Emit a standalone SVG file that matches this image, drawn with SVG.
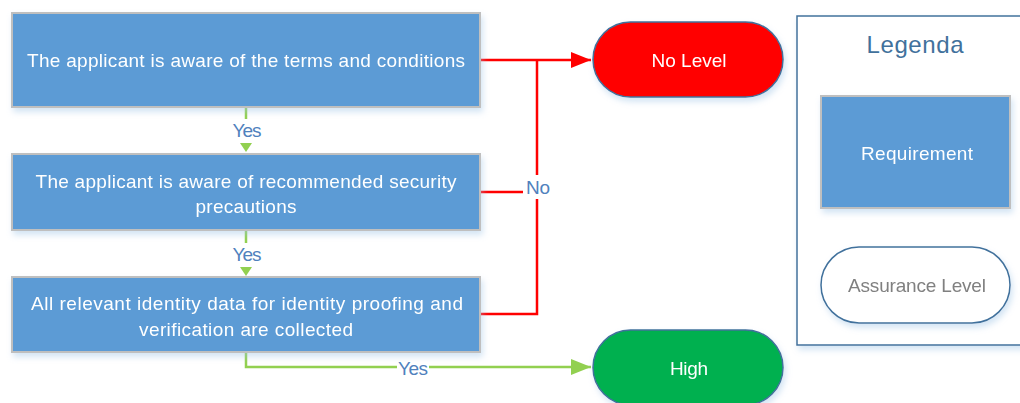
<svg xmlns="http://www.w3.org/2000/svg" width="1020" height="403" viewBox="0 0 1020 403">
  <style>
    .req { fill: #5B9BD5; stroke: #BFBFBF; stroke-width: 2; }
    .term { stroke: #41719C; stroke-width: 1.5; }
    .lbl { font-family: "Liberation Sans", Arial, sans-serif; font-size: 19px; fill: #FFFFFF; text-anchor: middle; }
    .cl { font-family: "Liberation Sans", Arial, sans-serif; font-size: 19px; fill: #4F81BD; text-anchor: middle; }
    .no { fill: none; stroke: #FF0000; stroke-width: 2.5; }
    .yes { fill: none; stroke: #92D050; stroke-width: 2.5; }
  </style>
  <defs>
    <filter id="shadow" x="-10%" y="-10%" width="120%" height="140%">
      <feGaussianBlur in="SourceAlpha" stdDeviation="3"/>
      <feOffset dx="2" dy="4" result="b"/>
      <feFlood flood-color="#9DC3E6" flood-opacity="0.45"/>
      <feComposite in2="b" operator="in"/>
      <feMerge><feMergeNode/><feMergeNode in="SourceGraphic"/></feMerge>
    </filter>
    <marker id="arrRed" markerWidth="20" markerHeight="20" refX="20" refY="10" orient="auto" markerUnits="userSpaceOnUse">
      <path d="M0,2 L20,10 L0,18 Z" fill="#FF0000"/>
    </marker>
    <marker id="arrGreen" markerWidth="20" markerHeight="20" refX="20" refY="10" orient="auto" markerUnits="userSpaceOnUse">
      <path d="M0,2 L20,10 L0,18 Z" fill="#92D050"/>
    </marker>
  </defs>

  <!-- connectors -->
  <g id="connectors">
    <path class="no" d="M480,60 H591" marker-end="url(#arrRed)"/>
    <path class="no" d="M480,192 H537"/>
    <path class="no" d="M480,314 H537 V60"/>
    <path class="yes" d="M246,107 V120"/>
    <path d="M240,143 L252,143 L246,152 Z" fill="#92D050"/>
    <path class="yes" d="M246,230 V244"/>
    <path d="M240,267 L252,267 L246,276 Z" fill="#92D050"/>
    <path class="yes" d="M246,352 V367 H591" marker-end="url(#arrGreen)"/>
    <rect x="228" y="119" width="36" height="22" fill="#FFFFFF"/>
    <text class="cl" x="247" y="137" textLength="29">Yes</text>
    <rect x="228" y="243" width="36" height="22" fill="#FFFFFF"/>
    <text class="cl" x="247" y="261" textLength="29">Yes</text>
    <rect x="397" y="357" width="32" height="22" fill="#FFFFFF"/>
    <text class="cl" x="413" y="375" textLength="30">Yes</text>
    <rect x="523" y="175" width="28" height="24" fill="#FFFFFF"/>
    <text class="cl" x="538" y="194" textLength="24">No</text>
  </g>

  <g id="req1" filter="url(#shadow)">
    <rect class="req" x="12" y="13" width="468" height="94"/>
    <text class="lbl" x="246" y="67" textLength="438">The applicant is aware of the terms and conditions</text>
  </g>
  <g id="req2" filter="url(#shadow)">
    <rect class="req" x="12" y="154" width="468" height="76"/>
    <text class="lbl" x="246" y="188" textLength="421">The applicant is aware of recommended security</text>
    <text class="lbl" x="246" y="213" textLength="101">precautions</text>
  </g>
  <g id="req3" filter="url(#shadow)">
    <rect class="req" x="12" y="277" width="468" height="75"/>
    <text class="lbl" x="247" y="310" textLength="432">All relevant identity data for identity proofing and</text>
    <text class="lbl" x="246" y="336" textLength="214">verification are collected</text>
  </g>

  <g id="noLevel" filter="url(#shadow)">
    <rect class="term" x="593" y="22" width="190" height="75" rx="37.5" fill="#FF0000"/>
    <text class="lbl" x="689" y="67" textLength="75">No Level</text>
  </g>
  <g id="high" filter="url(#shadow)">
    <rect class="term" x="593" y="330" width="190" height="75" rx="37.5" fill="#00B050"/>
    <text class="lbl" x="689" y="375" textLength="38">High</text>
  </g>

  <g id="legend">
    <rect x="797" y="16" width="240" height="329" fill="#FFFFFF" stroke="#41719C" stroke-width="1.5" filter="url(#shadow)"/>
    <text x="915" y="53" font-family="Liberation Sans, Arial, sans-serif" font-size="24" fill="#41719C" text-anchor="middle" textLength="97">Legenda</text>
    <g id="legendReq" filter="url(#shadow)">
      <rect class="req" x="821" y="96" width="189" height="112"/>
      <text class="lbl" x="917" y="160" textLength="112">Requirement</text>
    </g>
    <g id="legendLevel" filter="url(#shadow)">
      <rect class="term" x="821" y="247" width="189" height="76" rx="38" fill="#FFFFFF"/>
      <text class="lbl" x="917" y="292" style="fill:#808080" textLength="138">Assurance Level</text>
    </g>
  </g>
</svg>
